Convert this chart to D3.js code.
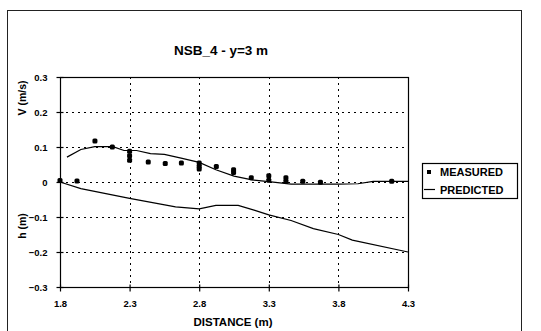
<!DOCTYPE html>
<html><head><meta charset="utf-8">
<script src="https://cdn.jsdelivr.net/npm/d3@7"></script>
<style>body{margin:0;background:#fff}svg{display:block}text{font-family:Arial,"Liberation Sans",sans-serif;font-weight:bold;fill:#000}</style>
</head><body>
<script>
const title = "NSB_4 - y=3 m";
const xTicks = [1.8, 2.3, 2.8, 3.3, 3.8, 4.3];
const yTicks = [0.3, 0.2, 0.1, 0, -0.1, -0.2, -0.3];
const measuredX = [1.8, 1.922, 2.051, 2.176, 2.3, 2.3, 2.3, 2.434, 2.556, 2.672, 2.8, 2.8, 2.8, 2.923, 3.047, 3.047, 3.174, 3.3, 3.3, 3.423, 3.423, 3.544, 3.671, 4.183];
const measuredV = [0.004, 0.003, 0.117, 0.1, 0.088, 0.075, 0.062, 0.057, 0.053, 0.054, 0.054, 0.045, 0.037, 0.044, 0.035, 0.027, 0.012, 0.018, 0.005, 0.012, 0.002, 0.002, -0.001, 0.002];
const predVX = [1.85, 1.95, 2.05, 2.18, 2.26, 2.35, 2.45, 2.55, 2.67, 2.8, 2.92, 3.05, 3.18, 3.3, 3.46, 3.8, 3.94, 4.05, 4.3];
const predV = [0.071, 0.093, 0.101, 0.101, 0.09, 0.09, 0.081, 0.079, 0.068, 0.056, 0.035, 0.017, 0.006, 0.001, -0.006, -0.006, -0.005, 0.002, 0.002];
const predHX = [1.8, 1.95, 2.3, 2.63, 2.8, 2.92, 3.08, 3.2, 3.3, 3.46, 3.62, 3.8, 3.9, 4.3];
const predH = [0, -0.019, -0.047, -0.071, -0.077, -0.067, -0.067, -0.081, -0.094, -0.11, -0.133, -0.15, -0.166, -0.2];
const legendLabels = ["MEASURED", "PREDICTED"];

const W = 541, H = 331;
const svg = d3.select("body").append("svg").attr("width", W).attr("height", H);
const L = 60, R = 408, T = 77, B = 287;
const x = d3.scaleLinear().domain([1.8, 4.3]).range([L, R]);
const y = d3.scaleLinear().domain([-0.3, 0.3]).range([B, T]);

svg.append("rect").attr("x", 7.5).attr("y", 10.5).attr("width", 514).attr("height", 330)
  .attr("fill", "none").attr("stroke", "#222").attr("stroke-width", 1);

svg.append("text").attr("x", 221).attr("y", 55).attr("text-anchor", "middle")
  .style("font-size", "13.5px").text(title);

// grid
const g = svg.append("g");
g.selectAll(".hg").data(yTicks.filter(d => d > -0.3 && d < 0.3)).join("line")
  .attr("x1", L).attr("x2", R).attr("y1", d => Math.round(y(d)) + 0.5).attr("y2", d => Math.round(y(d)) + 0.5)
  .attr("stroke", "#000").attr("stroke-dasharray", "2,4");
g.selectAll(".vg").data(xTicks.filter(d => d > 1.8 && d < 4.3)).join("line")
  .attr("y1", T).attr("y2", B).attr("x1", d => Math.round(x(d)) + 0.5).attr("x2", d => Math.round(x(d)) + 0.5)
  .attr("stroke", "#000").attr("stroke-dasharray", "2,4");

svg.append("rect").attr("x", L + 0.5).attr("y", T + 0.5).attr("width", R - L).attr("height", B - T)
  .attr("fill", "none").attr("stroke", "#000").attr("stroke-width", 1.2);

// axes
const ya = svg.append("g").attr("transform", `translate(${L + 0.5},0)`)
  .call(d3.axisLeft(y).tickValues(yTicks).tickSize(4).tickPadding(9).tickFormat(d => d === 0 ? "0" : d3.format(".1f")(d)));
ya.select(".domain").remove();
ya.selectAll(".tick line").attr("x1", -4).attr("x2", 3).attr("stroke-width", 1.2);
ya.selectAll("text").style("font-size", "9.5px").style("font-family", "Arial,'Liberation Sans',sans-serif").style("font-weight", "bold");

const xa = svg.append("g").attr("transform", `translate(0,${B + 0.5})`)
  .call(d3.axisBottom(x).tickValues(xTicks).tickSize(4).tickPadding(9).tickFormat(d3.format(".1f")));
xa.select(".domain").remove();
xa.selectAll(".tick line").attr("y1", -3).attr("y2", 4).attr("stroke-width", 1.2);
xa.selectAll("text").style("font-size", "9.5px").style("font-family", "Arial,'Liberation Sans',sans-serif").style("font-weight", "bold");

svg.append("text").attr("x", 233).attr("y", 326).attr("text-anchor", "middle").style("font-size", "11.5px").text("DISTANCE (m)");
svg.append("text").attr("transform", "translate(26,98) rotate(-90)").attr("text-anchor", "middle").style("font-size", "10.5px").text("V (m/s)");
svg.append("text").attr("transform", "translate(26,226) rotate(-90)").attr("text-anchor", "middle").style("font-size", "10.5px").text("h (m)");

// lines
const line = d3.line().x(d => x(d[0])).y(d => y(d[1]));
svg.append("path").datum(predVX.map((v, i) => [v, predV[i]])).attr("d", line)
  .attr("fill", "none").attr("stroke", "#000").attr("stroke-width", 1.2);
svg.append("path").datum(predHX.map((v, i) => [v, predH[i]])).attr("d", line)
  .attr("fill", "none").attr("stroke", "#000").attr("stroke-width", 1.2);

// points
svg.selectAll(".pt").data(measuredX.map((v, i) => [v, measuredV[i]])).join("rect")
  .attr("x", d => x(d[0]) - 2.5).attr("y", d => y(d[1]) - 2.5).attr("width", 5).attr("height", 5)
  .attr("rx", 1.5).attr("fill", "#000");

// legend
const lg = svg.append("g");
lg.append("rect").attr("x", 422.5).attr("y", 163.5).attr("width", 95).attr("height", 35)
  .attr("fill", "none").attr("stroke", "#000").attr("stroke-width", 1.2);
lg.append("rect").attr("x", 427).attr("y", 170).attr("width", 4).attr("height", 4).attr("fill", "#000");
lg.append("line").attr("x1", 424).attr("x2", 435).attr("y1", 189.5).attr("y2", 189.5).attr("stroke", "#000").attr("stroke-width", 1.2);
lg.selectAll(".lt").data(legendLabels).join("text").attr("x", 440).attr("y", (d, i) => 176 + i * 17.5)
  .style("font-size", "11px").text(d => d);
</script>
</body></html>
